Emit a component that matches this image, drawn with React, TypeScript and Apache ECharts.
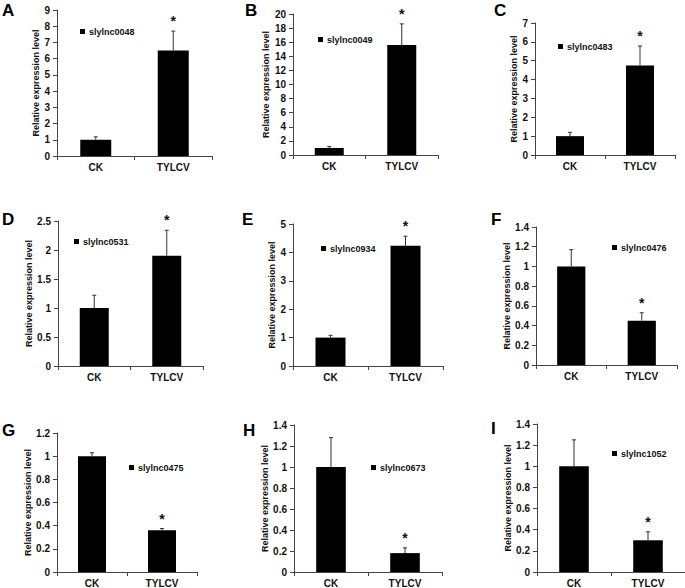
import React, { useEffect, useRef } from "react";
import * as echarts from "echarts";

const categories = ["CK", "TYLCV"];
const panelLetters = ["A", "B", "C", "D", "E", "F", "G", "H", "I"];
const geneNames = [
  "slylnc0048", "slylnc0049", "slylnc0483",
  "slylnc0531", "slylnc0934", "slylnc0476",
  "slylnc0475", "slylnc0673", "slylnc1052",
];
const ckValues = [1, 1, 1, 1, 1, 1, 1, 1, 1];
const ckErrors = [0.18, 0.2, 0.2, 0.22, 0.08, 0.17, 0.03, 0.28, 0.25];
const tylcvValues = [6.5, 15.6, 4.75, 1.9, 4.23, 0.45, 0.36, 0.18, 0.3];
const tylcvErrors = [1.2, 3.0, 1.03, 0.44, 0.34, 0.08, 0.015, 0.05, 0.08];
const significant = [true, true, true, true, true, true, true, true, true];
const yMax = [9, 20, 7, 2.5, 5, 1.4, 1.2, 1.4, 1.4];
const yInterval = [1, 2, 1, 0.5, 1, 0.2, 0.2, 0.2, 0.2];

// layout (pixels)
const grids = [
  { left: 57, top: 10, width: 155, height: 146 },
  { left: 293, top: 14, width: 145, height: 141 },
  { left: 535, top: 23, width: 140, height: 132 },
  { left: 58, top: 221, width: 145, height: 145 },
  { left: 293, top: 224, width: 150, height: 142 },
  { left: 536, top: 227, width: 141, height: 138 },
  { left: 57, top: 433, width: 140, height: 140 },
  { left: 294, top: 425, width: 148, height: 148 },
  { left: 537, top: 424, width: 148, height: 149 },
];
const nameGaps = [15, 20, 12, 24, 15, 21, 22, 24, 25];
const legendPos = [
  { left: 80, top: 27 },
  { left: 318, top: 35 },
  { left: 558, top: 42 },
  { left: 74, top: 237 },
  { left: 321, top: 244 },
  { left: 612, top: 243 },
  { left: 129, top: 463 },
  { left: 371, top: 463 },
  { left: 612, top: 449 },
];
const letterPos = [
  { x: 2, y: 2 }, { x: 245, y: 2 }, { x: 494, y: 2 },
  { x: 2, y: 211 }, { x: 242, y: 211 }, { x: 491, y: 211 },
  { x: 2, y: 422 }, { x: 243, y: 422 }, { x: 491, y: 420 },
];

const FONT = "Liberation Sans, Arial, sans-serif";
const AXIS_COLOR = "#444";

export default function App() {
  const ref = useRef<HTMLDivElement>(null);
  useEffect(() => {
    if (!ref.current) return;
    const chart = echarts.init(ref.current, null, { renderer: "svg" });
    const series: any[] = [];
    const xAxis: any[] = [];
    const yAxis: any[] = [];
    const legend: any[] = [];
    grids.forEach((g, i) => {
      xAxis.push({
        type: "category",
        gridIndex: i,
        data: categories,
        axisLine: { lineStyle: { color: AXIS_COLOR, width: 1 } },
        axisTick: { show: true, length: 4, lineStyle: { color: AXIS_COLOR } },
        axisLabel: {
          color: "#111",
          fontWeight: "bold",
          fontSize: 10,
          fontFamily: FONT,
          margin: 6,
        },
      });
      yAxis.push({
        type: "value",
        gridIndex: i,
        min: 0,
        max: yMax[i],
        interval: yInterval[i],
        name: "Relative expression level",
        nameLocation: "middle",
        nameGap: nameGaps[i],
        nameTextStyle: {
          color: "#111",
          fontWeight: "bold",
          fontSize: 9,
          fontFamily: FONT,
        },
        splitLine: { show: false },
        axisLine: { show: true, lineStyle: { color: AXIS_COLOR, width: 1 } },
        axisTick: { show: true, length: 4, lineStyle: { color: AXIS_COLOR } },
        axisLabel: {
          color: "#111",
          fontWeight: "bold",
          fontSize: 10,
          fontFamily: FONT,
          margin: 7,
        },
      });
      series.push({
        type: "bar",
        name: geneNames[i],
        xAxisIndex: i,
        yAxisIndex: i,
        barWidth: "40%",
        itemStyle: { color: "#000" },
        data: [ckValues[i], tylcvValues[i]],
      });
      series.push({
        type: "custom",
        xAxisIndex: i,
        yAxisIndex: i,
        z: 5,
        data: [
          [0, ckValues[i], ckErrors[i], 0],
          [1, tylcvValues[i], tylcvErrors[i], significant[i] ? 1 : 0],
        ],
        renderItem: (params: any, api: any) => {
          const xi = api.value(0);
          const v = api.value(1);
          const e = api.value(2);
          const sig = api.value(3);
          const base = api.coord([xi, v]);
          const top = api.coord([xi, v + e]);
          const children: any[] = [
            {
              type: "line",
              shape: { x1: base[0], y1: base[1], x2: top[0], y2: top[1] },
              style: { stroke: "#333", lineWidth: 1 },
            },
            {
              type: "line",
              shape: { x1: top[0] - 2, y1: top[1], x2: top[0] + 2, y2: top[1] },
              style: { stroke: "#333", lineWidth: 1 },
            },
          ];
          if (sig) {
            children.push({
              type: "text",
              x: top[0],
              y: top[1] - 3,
              style: {
                text: "*",
                fontSize: 14,
                fontWeight: "bold",
                fontFamily: FONT,
                fill: "#111",
                align: "center",
                verticalAlign: "bottom",
              },
            });
          }
          return { type: "group", children };
        },
      });
      legend.push({
        data: [geneNames[i]],
        left: legendPos[i].left,
        top: legendPos[i].top,
        padding: 0,
        icon: "rect",
        itemWidth: 5,
        itemHeight: 5,
        selectedMode: false,
        textStyle: {
          color: "#111",
          fontWeight: "bold",
          fontSize: 9,
          fontFamily: FONT,
          padding: [0, 0, 0, -1],
        },
      });
    });
    const graphic = panelLetters.map((t, i) => ({
      type: "text",
      left: letterPos[i].x,
      top: letterPos[i].y,
      style: {
        text: t,
        fontSize: 17,
        fontWeight: "bold",
        fontFamily: FONT,
        fill: "#000",
      },
    }));
    chart.setOption({
      animation: false,
      backgroundColor: "#fff",
      grid: grids.map((g) => ({ ...g, containLabel: false })),
      xAxis,
      yAxis,
      series,
      legend,
      graphic,
    });
    return () => chart.dispose();
  }, []);
  return (
    <div
      ref={ref}
      style={{ position: "absolute", left: 0, top: 0, width: 685, height: 588 }}
    />
  );
}
